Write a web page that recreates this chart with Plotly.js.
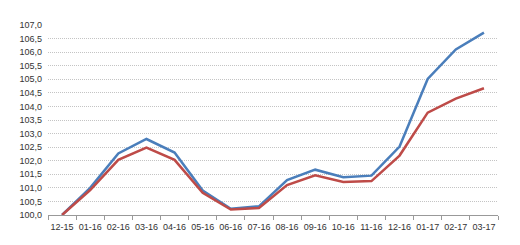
<!DOCTYPE html>
<html><head><meta charset="utf-8">
<script src="https://cdn.plot.ly/plotly-3.0.1.min.js"></script>
<style>html,body{margin:0;padding:0;background:#fff}#c{width:520px;height:245px}</style>
</head><body><div id="c"></div>
<script>
var categories = ["12-15","01-16","02-16","03-16","04-16","05-16","06-16","07-16","08-16","09-16","10-16","11-16","12-16","01-17","02-17","03-17"];
var blueSeries = [100.0,101.0,102.27,102.8,102.3,100.9,100.23,100.32,101.29,101.67,101.39,101.45,102.52,105.01,106.1,106.72];
var redSeries  = [100.0,100.92,102.03,102.48,102.03,100.82,100.2,100.26,101.1,101.46,101.22,101.25,102.19,103.77,104.29,104.67];
var yTicks = [100,100.5,101,101.5,102,102.5,103,103.5,104,104.5,105,105.5,106,106.5,107];
</script>
<script>
var traces = [
 {x: categories, y: blueSeries, type:'scatter', mode:'lines', line:{color:'#4a7ebb', width:2.5}, hoverinfo:'skip'},
 {x: categories, y: redSeries, type:'scatter', mode:'lines', line:{color:'#be4b48', width:2.5}, hoverinfo:'skip'}
];
var layout = {
 width:520, height:245,
 margin:{l:48, r:22, t:25, b:30},
 paper_bgcolor:'#fff', plot_bgcolor:'#fff',
 showlegend:false,
 separators:', ',
 font:{family:'"Liberation Sans", Arial, sans-serif', size:9, color:'#333'},
 xaxis:{type:'category', tickson:'boundaries', ticks:'outside', ticklen:4, tickcolor:'#999',
   tickangle:0, ticklabelstandoff:3,
   showline:true, linecolor:'#999', linewidth:1, showgrid:false, zeroline:false,
   range:[-0.5, 15.5], tickfont:{size:9, color:'#333'}},
 yaxis:{range:[100,107], tickmode:'array', tickvals:yTicks, tickformat:'.1f',
   showgrid:true, gridcolor:'#c4c4c4', griddash:'1px,1px', gridwidth:1, zeroline:false,
   showline:false, ticks:'', ticklabelstandoff:5, tickfont:{size:9, color:'#333'}}
};
Plotly.newPlot('c', traces, layout, {staticPlot:true, displayModeBar:false});
</script>
</body></html>
